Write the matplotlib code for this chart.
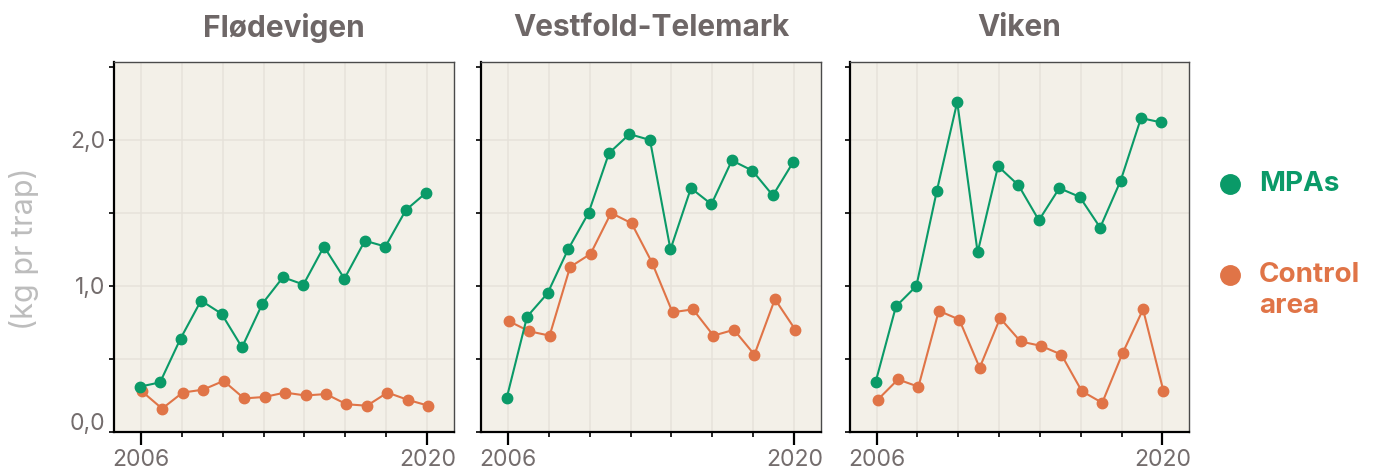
import matplotlib
matplotlib.use("Agg")
import matplotlib.pyplot as plt
from matplotlib.lines import Line2D
from matplotlib.transforms import ScaledTranslation
import numpy as np

# ---- data -------------------------------------------------------------
years = list(range(2006, 2021))
regions = ["Flødevigen", "Vestfold-Telemark", "Viken"]

mpa_flodevigen = [0.31, 0.34, 0.64, 0.90, 0.81, 0.58, 0.88, 1.06, 1.01, 1.27,
                  1.05, 1.31, 1.27, 1.52, 1.64]
ctrl_flodevigen = [0.28, 0.16, 0.27, 0.29, 0.35, 0.23, 0.24, 0.27, 0.25, 0.26,
                   0.19, 0.18, 0.27, 0.22, 0.18]

mpa_vestfold = [0.23, 0.79, 0.95, 1.25, 1.50, 1.91, 2.04, 2.00, 1.25, 1.67,
                1.56, 1.86, 1.79, 1.62, 1.85]
ctrl_vestfold = [0.76, 0.69, 0.66, 1.13, 1.22, 1.50, 1.43, 1.16, 0.82, 0.84,
                 0.66, 0.70, 0.53, 0.91, 0.70]

mpa_viken = [0.34, 0.86, 1.00, 1.65, 2.26, 1.23, 1.82, 1.69, 1.45, 1.67,
             1.61, 1.40, 1.72, 2.15, 2.12]
ctrl_viken = [0.22, 0.36, 0.31, 0.83, 0.77, 0.44, 0.78, 0.62, 0.59, 0.53,
              0.28, 0.20, 0.54, 0.84, 0.28]

mpa_series = [mpa_flodevigen, mpa_vestfold, mpa_viken]
ctrl_series = [ctrl_flodevigen, ctrl_vestfold, ctrl_viken]

y_ticks = [0.0, 0.5, 1.0, 1.5, 2.0, 2.5]
y_ticklabels = ["0,0", "", "1,0", "", "2,0", ""]
x_label_years = [2006, 2020]
x_minor_years = list(range(2008, 2020, 2))

series_labels = ["MPAs", "Control\narea"]

# ---- style ------------------------------------------------------------
GREEN = "#0A9A68"
ORANGE = "#E07447"
PANEL_BG = "#F3F0E8"
GRID = "#E6E2DA"
TITLE_GRAY = "#6E6767"
TICK_GRAY = "#746D6D"
YLAB_GRAY = "#BDBDBD"
FONT = "Inter"

plt.rcParams["font.family"] = [FONT, "DejaVu Sans"]

W, H = 1373, 470
fig = plt.figure(figsize=(W / 100, H / 100), dpi=100)
fig.patch.set_facecolor("white")

# panel boxes in pixels: left, right (top and bottom shared)
panel_px = [(114, 454), (481, 821), (850, 1189)]
top_px, bottom_px = 62, 432

dodge = 0.05

for i, (region, mpa, ctrl) in enumerate(zip(regions, mpa_series, ctrl_series)):
    l, r = panel_px[i]
    ax = fig.add_axes([l / W, (H - bottom_px) / H, (r - l) / W,
                       (bottom_px - top_px) / H])
    ax.set_facecolor(PANEL_BG)

    yrs = np.array(years, dtype=float)
    ax.plot(yrs - dodge, mpa, color=GREEN, lw=1.5, marker="o", ms=7.5,
            zorder=4, clip_on=False)
    ax.plot(yrs + dodge, ctrl, color=ORANGE, lw=1.5, marker="o", ms=7.5,
            zorder=3, clip_on=False)

    ax.set_xlim(2004.7, 2021.3)
    ax.set_ylim(0, 2.534)

    # grid
    for gx in x_label_years + x_minor_years:
        ax.axvline(gx, color=GRID, lw=1.1, zorder=1)
    for gy in [0.5, 1.0, 1.5, 2.0]:
        ax.axhline(gy, color=GRID, lw=1.1, zorder=1)

    # x ticks: long labelled ticks at the ends, short ones in between
    ax.set_xticks(x_label_years)
    ax.set_xticklabels([str(y) for y in x_label_years])
    ax.set_xticks(x_minor_years, minor=True)
    ax.tick_params(axis="x", which="major", length=9.5, width=1.6,
                   color="black", labelsize=16.5, labelcolor=TICK_GRAY, pad=3)
    ax.tick_params(axis="x", which="minor", length=3.5, width=1.2,
                   color="black")

    ax.set_yticks(y_ticks)
    ax.tick_params(axis="y", which="major", length=3.5, width=1.2,
                   color="black", labelsize=16.5, labelcolor=TICK_GRAY, pad=3)
    if i == 0:
        ax.set_yticklabels(y_ticklabels)
        lab0 = ax.get_yticklabels()[0]
        lab0.set_transform(lab0.get_transform() +
                           ScaledTranslation(0, 10 / 100, fig.dpi_scale_trans))
    else:
        ax.set_yticklabels([])

    for side in ["left", "bottom"]:
        ax.spines[side].set_color("black")
        ax.spines[side].set_linewidth(1.6)
    for side in ["top", "right"]:
        ax.spines[side].set_color("#4A4A4A")
        ax.spines[side].set_linewidth(1.0)

    fig.text(((l + r) / 2) / W, 1 - 28 / H, region, ha="center", va="center",
             fontsize=21.5, fontweight="bold", color=TITLE_GRAY)

# y-axis title
fig.text(24 / W, 1 - 249 / H, "(kg pr trap)", rotation=90, ha="center",
         va="center", fontsize=22, color=YLAB_GRAY)

# legend
legend_rows = [(GREEN, 184, series_labels[0]), (ORANGE, 275, series_labels[1])]
for color, ypx, text in legend_rows:
    fig.add_artist(Line2D([1230 / W], [1 - ypx / H], marker="o", ms=14,
                          color=color, linestyle="none",
                          transform=fig.transFigure))
    fig.text(1259 / W, 1 - (ypx - 13) / H, text, ha="left", va="top",
             fontsize=20, fontweight="bold", color=color, linespacing=1.27)

fig.savefig("out.png", dpi=100, facecolor="white")
